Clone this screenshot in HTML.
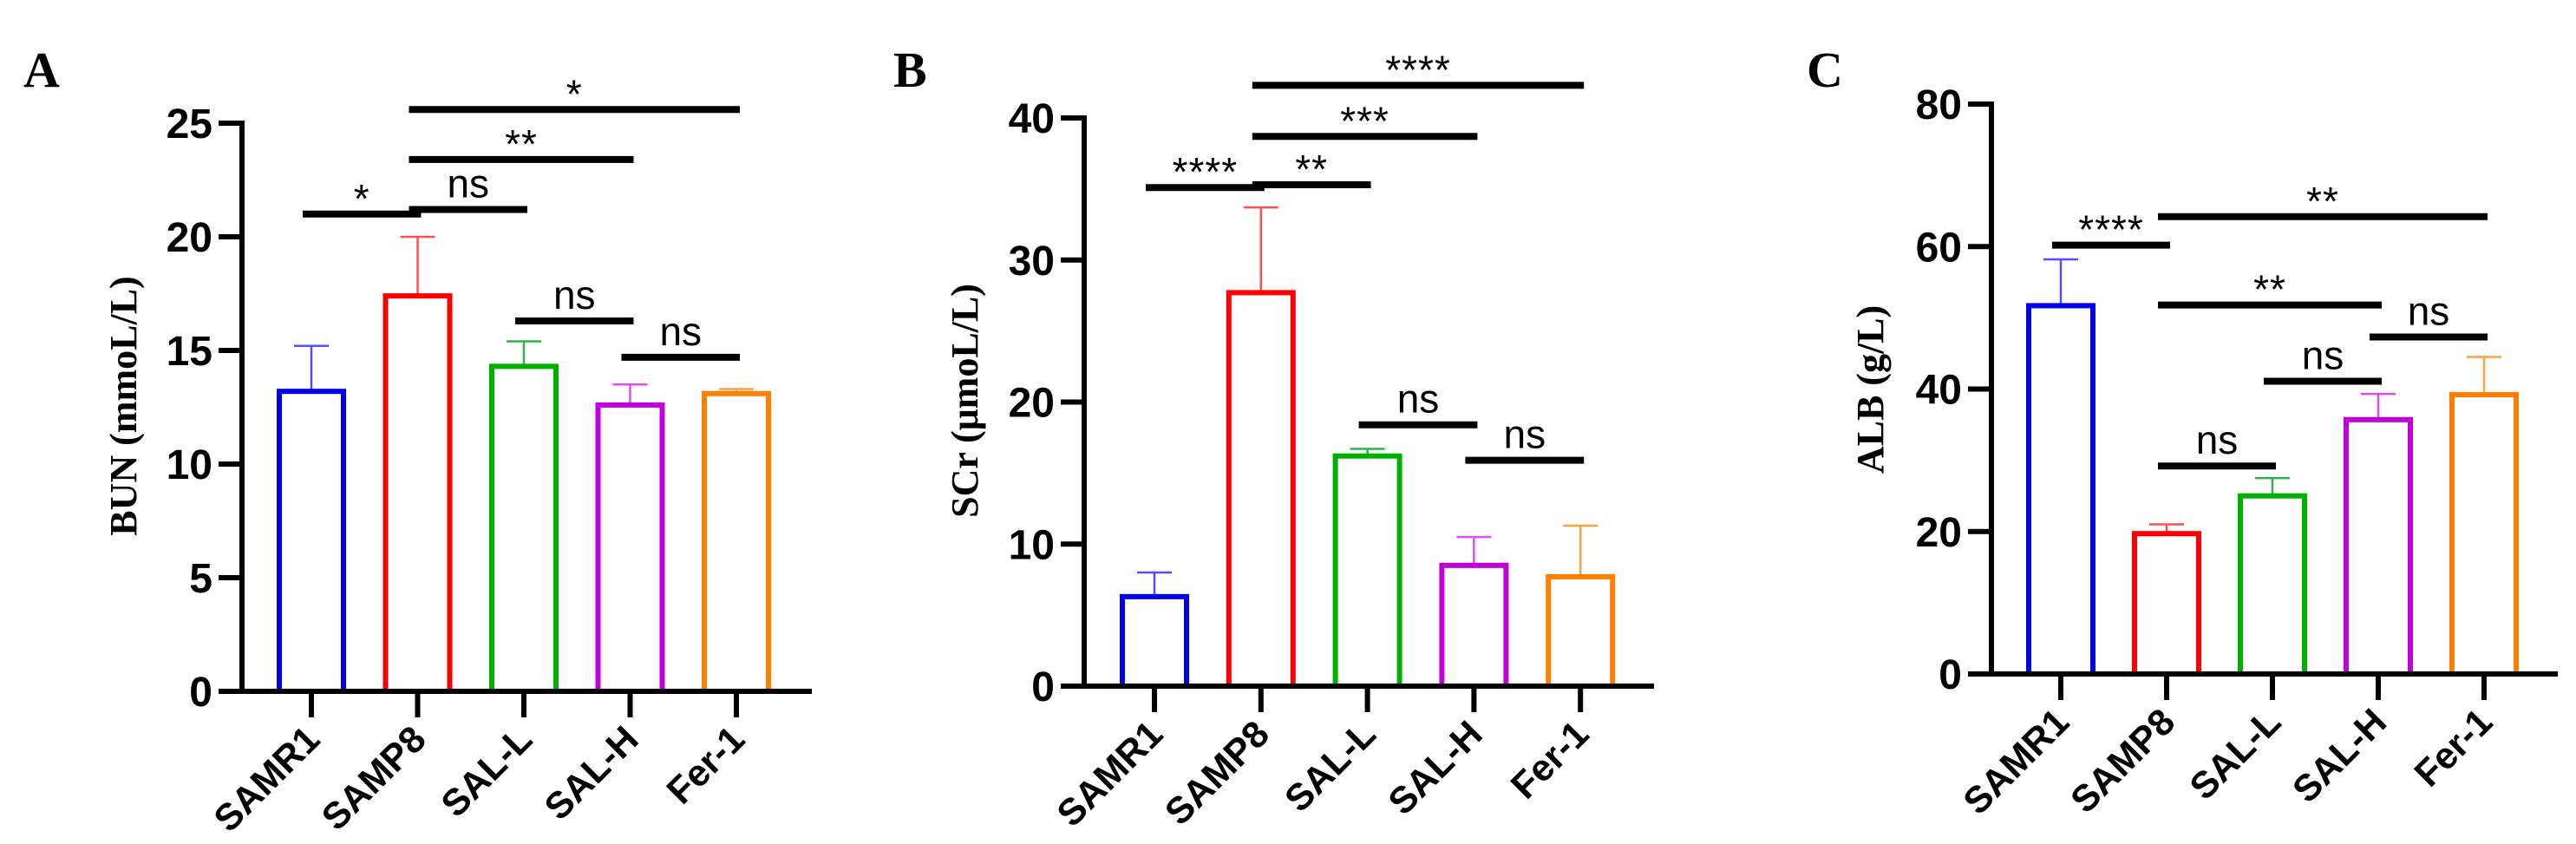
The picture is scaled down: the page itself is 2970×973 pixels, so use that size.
<!DOCTYPE html>
<html><head><meta charset="utf-8"><style>
html,body{margin:0;padding:0;background:#fff;}
svg{display:block;}
</style></head><body>
<svg id="chart" width="2970" height="973" viewBox="0 0 2970 973" xmlns="http://www.w3.org/2000/svg"></svg>
<script>
const categories = ["SAMR1","SAMP8","SAL-L","SAL-H","Fer-1"];
const colors = ["#0000ee","#ff0000","#00b000","#c000d8","#ff8000"];
const errColors = ["#5050ff","#ff5050","#30b050","#dd50ee","#ffa040"];
const bunValues = [13.2,17.4,14.3,12.6,13.1];
const bunErrors = [2.0,2.6,1.1,0.9,0.2];
const bunTicks = [0,5,10,15,20,25];
const scrValues = [6.3,27.7,16.2,8.5,7.7];
const scrErrors = [1.7,6.0,0.5,2.0,3.6];
const scrTicks = [0,10,20,30,40];
const albValues = [51.7,19.7,25.0,35.7,39.2];
const albErrors = [6.5,1.3,2.5,3.6,5.3];
const albTicks = [0,20,40,60,80];
// significance brackets: [fromIndex, toIndex, value-level, label]
const bunSig = [[0,1,21.0,"*"],[1,2,21.2,"ns"],[1,3,23.4,"**"],[1,4,25.6,"*"],[2,3,16.3,"ns"],[3,4,14.7,"ns"]];
const scrSig = [[0,1,35.1,"****"],[1,2,35.3,"**"],[1,3,38.7,"***"],[1,4,42.3,"****"],[2,3,18.4,"ns"],[3,4,15.9,"ns"]];
const albSig = [[0,1,60.2,"****"],[1,4,64.2,"**"],[1,3,51.8,"**"],[3,4,47.3,"ns"],[2,3,41.1,"ns"],[1,2,29.2,"ns"]];

const NS="http://www.w3.org/2000/svg";
const svg=document.getElementById('chart');
function mk(tag,attrs,parent,text){const e=document.createElementNS(NS,tag);for(const k in attrs)e.setAttribute(k,attrs[k]);if(text!==undefined)e.textContent=text;(parent||svg).appendChild(e);return e;}

const panels=[
 {id:"a",letter:"A",lx:27,ax:279,y0:797,yTop:142,max:25,xEnd:936,centers0:359,step:122.5,values:bunValues,errors:bunErrors,ticks:bunTicks,sig:bunSig,title:"BUN (mmoL/L)",tx:142,ty:468},
 {id:"b",letter:"B",lx:1030,ax:1250,y0:791,yTop:136,max:40,xEnd:1907,centers0:1331,step:122.8,values:scrValues,errors:scrErrors,ticks:scrTicks,sig:scrSig,title:"SCr (μmoL/L)",tx:1112,ty:462},
 {id:"c",letter:"C",lx:2083,ax:2296,y0:777,yTop:120,max:80,xEnd:2949,centers0:2376,step:122,values:albValues,errors:albErrors,ticks:albTicks,sig:albSig,title:"ALB (g/L)",tx:2156,ty:449}
];

panels.forEach(p=>{
  const g=mk('g',{},svg);
  
  
  const yS=v=>p.y0-(v/p.max)*(p.y0-p.yTop);
  const xS=i=>p.centers0+i*p.step;
  const L=mk('text',{x:p.lx,y:100,'font-family':'Liberation Serif, serif','font-weight':'bold','font-size':58,fill:'#000'},g,p.letter);
  
  
  p.values.forEach((v,i)=>{
    const cx=xS(i), w=80;
    const e=p.values[i]+p.errors[i];
    const el=mk('line',{x1:cx,x2:cx,y1:yS(v),y2:yS(e),stroke:errColors[i],'stroke-width':2.5},g);
    
    
    const ec=mk('line',{x1:cx-20,x2:cx+20,y1:yS(e),y2:yS(e),stroke:errColors[i],'stroke-width':2.5},g);
    
    
    const r=mk('rect',{x:cx-w/2+3,y:yS(v),width:w-6,height:p.y0-yS(v),fill:'none',stroke:colors[i],'stroke-width':6},g);
    
    
  });
  const ya=mk('line',{x1:p.ax,x2:p.ax,y1:p.yTop-3,y2:p.y0+3,stroke:'#000','stroke-width':6},g);
  
  
  const xa=mk('line',{x1:p.ax-27,x2:p.xEnd,y1:p.y0,y2:p.y0,stroke:'#000','stroke-width':6},g);
  
  
  p.ticks.forEach(t=>{
    const y=yS(t);
    mk('line',{x1:p.ax-27,x2:p.ax,y1:y,y2:y,stroke:'#000','stroke-width':6},g);
    const tl=mk('text',{x:p.ax-34,y:y+17,'text-anchor':'end','font-family':'Liberation Sans, sans-serif','font-weight':'bold','font-size':48,fill:'#000'},g,String(t));
    
    
  });
  categories.forEach((c,i)=>{
    const cx=xS(i);
    mk('line',{x1:cx,x2:cx,y1:p.y0,y2:p.y0+30,stroke:'#000','stroke-width':6},g);
    const t=mk('text',{x:0,y:0,'text-anchor':'end','font-family':'Liberation Sans, sans-serif','font-weight':'bold','font-size':43,fill:'#000',transform:`translate(${cx+12},${p.y0+58}) rotate(-45)`},g,c);
    
    
  });
  const yt=mk('text',{x:0,y:0,'text-anchor':'middle','font-family':'Liberation Serif, serif','font-weight':'bold','font-size':44,fill:'#000',transform:`translate(${p.tx+15},${p.ty}) rotate(-90)`},g,p.title);
  
  
  p.sig.forEach(s=>{
    const x1=xS(s[0])-10, x2=xS(s[1])+4, y=yS(s[2]);
    const b=mk('line',{x1:x1,x2:x2,y1:y,y2:y,stroke:'#000','stroke-width':8},g);
    
    
    const isNs=s[3]==='ns';
    const t=mk('text',{x:(x1+x2)/2,y:isNs?y-14:y-2,'text-anchor':'middle','font-family':'Liberation Sans, sans-serif','font-size':isNs?46:46,fill:'#000','letter-spacing':isNs?0:1},g,s[3]);
    
    
  });
});
</script>
</body></html>
